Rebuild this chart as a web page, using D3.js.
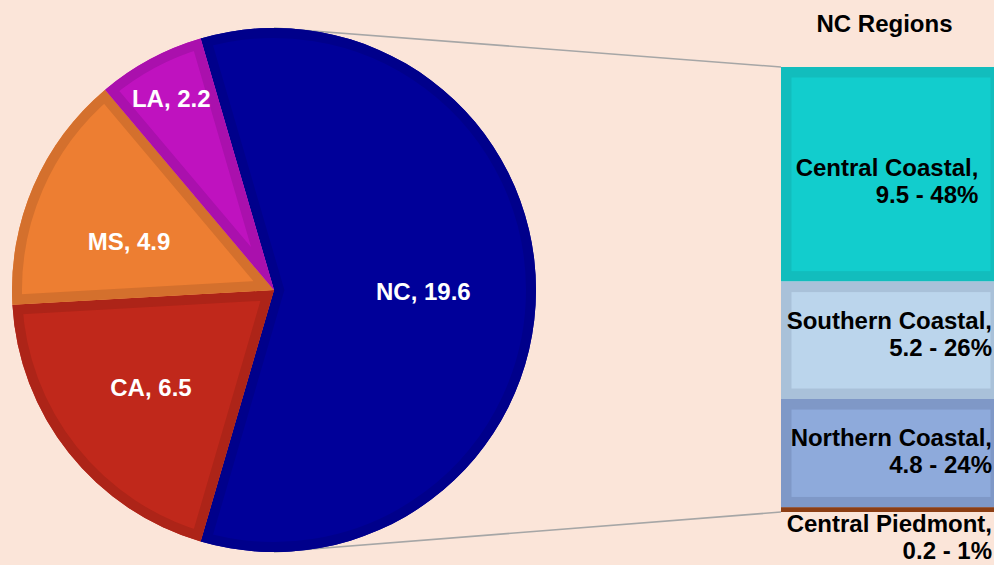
<!DOCTYPE html>
<html>
<head>
<meta charset="utf-8">
<script src="https://cdn.jsdelivr.net/npm/d3@7"></script>
<style>
  html, body { margin: 0; padding: 0; background: #fbe5d9; }
  svg { display: block; font-family: "Liberation Sans", Arial, sans-serif; }
</style>
</head>
<body>
<svg id="chart" width="994" height="565"></svg>
<script>
// Main pie: states
const states = ["NC", "CA", "MS", "LA"];
const stateValues = [19.6, 6.5, 4.9, 2.2];
const stateFill = ["#000099", "#c0281b", "#ed7e32", "#bf12bf"];
const stateEdge = ["#00008b", "#ad2418", "#d4702d", "#aa10ad"];

// Breakdown bar: NC regions
const regions = ["Central Coastal", "Southern Coastal", "Northern Coastal", "Central Piedmont"];
const regionValues = [9.5, 5.2, 4.8, 0.2];
const regionFill = ["#12cdcd", "#bbd5ec", "#8eaadb", "#9e4818"];
const regionEdge = ["#12bdbd", "#a9c1d9", "#7f98c7", "#8c3e14"];
const barTitle = "NC Regions";

const svg = d3.select("#chart");
const W = 994, H = 565;
const FS = 24;
svg.append("rect").attr("width", W).attr("height", H).attr("fill", "#fbe5d9");

const cx = 274, cy = 290, R = 262;
const barX = 781, barW = 220, barTop = 67, barBottom = 512;

const regionTotal = d3.sum(regionValues);
const y = d3.scaleLinear().domain([0, regionTotal]).range([barTop, barBottom]);

// Connector lines from the pie's top and bottom to the bar
const conn = svg.append("g").attr("stroke", "#a6a6a6").attr("stroke-width", 1.6);
conn.append("line").attr("x1", cx).attr("y1", cy - R).attr("x2", barX).attr("y2", y(0));
conn.append("line").attr("x1", cx).attr("y1", cy + R).attr("x2", barX).attr("y2", y(regionTotal));

// Pie, NC slice centred on the right-hand side
const total = d3.sum(stateValues);
const ncSweep = stateValues[0] / total * 2 * Math.PI;
const start = Math.PI / 2 - ncSweep / 2;
const pie = d3.pie().sort(null).startAngle(start).endAngle(start + 2 * Math.PI);
const arcs = pie(stateValues);
const arc = d3.arc().innerRadius(0).outerRadius(R);

const defs = svg.append("defs");
const pg = svg.append("g").attr("transform", `translate(${cx},${cy})`);
arcs.forEach((a, i) => {
  const id = "sl" + i;
  defs.append("clipPath").attr("id", id).append("path").attr("d", arc(a));
  pg.append("path").attr("d", arc(a)).attr("fill", stateFill[i]);
  pg.append("path").attr("d", arc(a)).attr("fill", "none")
    .attr("stroke", stateEdge[i]).attr("stroke-width", 20)
    .attr("stroke-linejoin", "miter").attr("clip-path", `url(#${id})`);
});

// Slice labels (best-fit radius and angular shift per slice)
const labelRadius = [0.57, 0.6, 0.584, 0.83];
const labelTurn = [0.5, 0, -4.7, 0];
arcs.forEach((a, i) => {
  const m = (a.startAngle + a.endAngle) / 2 + labelTurn[i] * Math.PI / 180;
  const r = R * labelRadius[i];
  pg.append("text")
    .attr("x", Math.sin(m) * r).attr("y", -Math.cos(m) * r)
    .attr("dy", "0.36em").attr("text-anchor", "middle")
    .attr("fill", "#fff").attr("font-weight", "bold").attr("font-size", FS)
    .text(`${states[i]}, ${stateValues[i]}`);
});

// Stacked bar
const cum = d3.cumsum(regionValues);
const bg = svg.append("g");
regionValues.forEach((v, i) => {
  const y0 = y(cum[i] - v), y1 = y(cum[i]);
  const id = "bar" + i;
  defs.append("clipPath").attr("id", id).append("rect")
    .attr("x", barX).attr("y", y0).attr("width", barW).attr("height", y1 - y0);
  bg.append("rect").attr("x", barX).attr("y", y0).attr("width", barW).attr("height", y1 - y0)
    .attr("fill", regionFill[i]);
  bg.append("rect").attr("x", barX).attr("y", y0).attr("width", barW).attr("height", y1 - y0)
    .attr("fill", "none").attr("stroke", regionEdge[i]).attr("stroke-width", 21)
    .attr("clip-path", `url(#${id})`);
});

// Bar labels: two lines, right-aligned to each other, kept inside the view
const nudgeX = [-4, 2.5, 3.5, 6];
const nudgeY = [2, -11, -7, 0];
const barCx = barX + barW / 2;
regionValues.forEach((v, i) => {
  const y0 = y(cum[i] - v), y1 = y(cum[i]);
  const pct = Math.round(v / regionTotal * 100);
  const thin = (y1 - y0) < 20;
  const base = thin ? y1 + 20 : (y0 + y1) / 2 + nudgeY[i];
  const t = svg.append("text").attr("font-weight", "bold").attr("font-size", FS)
    .attr("fill", "#000").attr("text-anchor", "end");
  const l1 = t.append("tspan").text(`${regions[i]},`);
  const l2 = t.append("tspan").text(`${v} - ${pct}%`);
  const w1 = l1.node().getComputedTextLength();
  const right = Math.min(barCx + nudgeX[i] + w1 / 2, W - 2);
  l1.attr("x", right).attr("y", base);
  l2.attr("x", right).attr("y", base + (thin ? 27 : 26.6));
});

svg.append("text").attr("x", 884.5).attr("y", 32)
  .attr("text-anchor", "middle").attr("font-weight", "bold").attr("font-size", FS)
  .attr("fill", "#000").text(barTitle);
</script>
</body>
</html>
